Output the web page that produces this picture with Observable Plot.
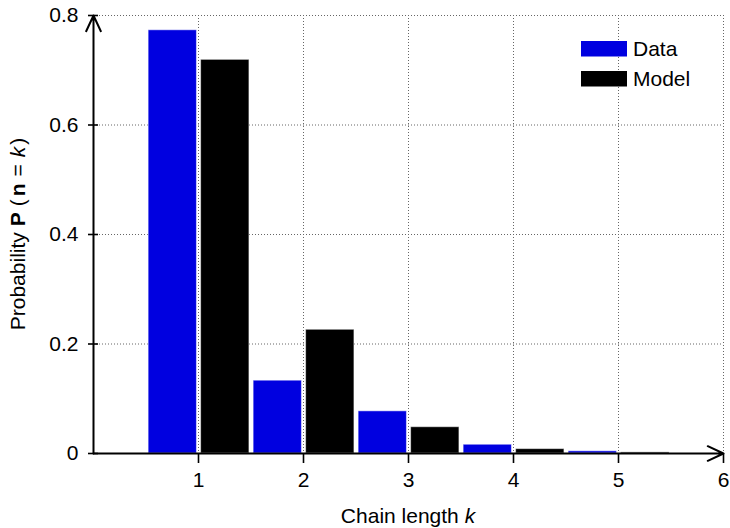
<!DOCTYPE html>
<html>
<head>
<meta charset="utf-8">
<script src="https://cdn.jsdelivr.net/npm/d3@7"></script>
<script src="https://cdn.jsdelivr.net/npm/@observablehq/plot@0.6"></script>
<style>
  body { margin: 0; background: #fff; }
  #chart { position: relative; width: 730px; height: 528px; }
</style>
</head>
<body>
<div id="chart"></div>
<script>
// Chain length distribution: observed frequencies vs. model prediction
const chainLength = [1, 2, 3, 4, 5];
const dataProb = [0.773, 0.133, 0.077, 0.016, 0.004];
const modelProb = [0.719, 0.226, 0.048, 0.008, 0.002];
const seriesNames = ["Data", "Model"];
const seriesColors = ["#0000e0", "#000000"];
const xTicks = [1, 2, 3, 4, 5, 6];
const yTicks = [0, 0.2, 0.4, 0.6, 0.8];
const xDomain = [0, 6];
const yDomain = [0, 0.8];

const rows = chainLength.flatMap((k, i) => [
  {k, p: dataProb[i], series: "Data"},
  {k, p: modelProb[i], series: "Model"}
]);
// each pair of bars sits side by side around the integer k
const barSpan = {Data: [-0.475, -0.015], Model: [0.025, 0.485]};

const font = "'Liberation Sans', Arial, Helvetica, sans-serif";
const fontSize = 21;
const gridStyle = {stroke: "#666", strokeOpacity: 1, strokeWidth: 1, strokeDasharray: "1,2"};
const axisStyle = {stroke: "black", strokeOpacity: 1, strokeWidth: 1.6, fill: "black", label: null};

const plot = Plot.plot({
  width: 730,
  height: 528,
  marginLeft: 93,
  marginRight: 7,
  marginTop: 15,
  marginBottom: 75,
  style: {fontFamily: font, fontSize: `${fontSize}px`, background: "white", overflow: "visible"},
  x: {domain: xDomain},
  y: {domain: yDomain},
  color: {domain: seriesNames, range: seriesColors},
  marks: [
    Plot.gridY(yTicks.filter(v => v > 0), gridStyle),
    Plot.gridX(xTicks, gridStyle),
    Plot.rect(rows, {
      x1: d => d.k + barSpan[d.series][0],
      x2: d => d.k + barSpan[d.series][1],
      y1: 0,
      y2: "p",
      fill: "series",
      stroke: "white",
      strokeOpacity: 0.5,
      strokeWidth: 1
    }),
    Plot.axisX(xTicks, {...axisStyle, tickSize: 10, tickPadding: 9}),
    Plot.axisY(yTicks, {...axisStyle, tickSize: 10, dx: 5, tickFormat: () => ""}),
    Plot.axisY(yTicks, {...axisStyle, tickSize: 0, tickPadding: 15, tickFormat: d => d === 0 ? "0" : d.toFixed(1)}),
    Plot.arrow([null], {x1: xDomain[0], y1: yDomain[0], x2: xDomain[1], y2: yDomain[0],
      stroke: "black", strokeWidth: 2, headLength: 13, headAngle: 50}),
    Plot.arrow([null], {x1: xDomain[0], y1: yDomain[0], x2: xDomain[0], y2: yDomain[1],
      stroke: "black", strokeWidth: 2, headLength: 13, headAngle: 50})
  ]
});

document.getElementById("chart").appendChild(plot);

// Axis titles with mixed bold / italic runs
const svg = d3.select(plot);
const xr = plot.scale("x").range;
const yr = plot.scale("y").range;

const xTitle = svg.append("text")
  .attr("x", (xr[0] + xr[1]) / 2)
  .attr("y", 523)
  .attr("text-anchor", "middle")
  .attr("font-size", fontSize)
  .attr("fill", "black");
xTitle.append("tspan").text("Chain length ");
xTitle.append("tspan").attr("font-style", "italic").text("k");

const yTitle = svg.append("text")
  .attr("transform", `translate(25,${(yr[0] + yr[1]) / 2}) rotate(-90)`)
  .attr("text-anchor", "middle")
  .attr("font-size", fontSize)
  .attr("fill", "black");
yTitle.append("tspan").text("Probability ");
yTitle.append("tspan").attr("font-weight", "bold").text("P");
yTitle.append("tspan").attr("dx", 6).text("(");
yTitle.append("tspan").attr("dx", 3).attr("font-weight", "bold").text("n");
yTitle.append("tspan").attr("dx", 7).text("=");
yTitle.append("tspan").attr("dx", 7).attr("font-style", "italic").text("k");
yTitle.append("tspan").attr("dx", 2).text(")");

// Legend in the upper right of the plot area
const legend = svg.append("g")
  .attr("font-size", fontSize)
  .attr("text-anchor", "start")
  .attr("fill", "black");
seriesNames.forEach((name, i) => {
  const top = 41 + i * 30;
  legend.append("rect")
    .attr("x", 581).attr("y", top).attr("width", 46).attr("height", 15.5)
    .attr("fill", seriesColors[i]);
  legend.append("text")
    .attr("x", 633).attr("y", top + 8)
    .attr("dy", "0.35em")
    .text(name);
});
</script>
</body>
</html>
